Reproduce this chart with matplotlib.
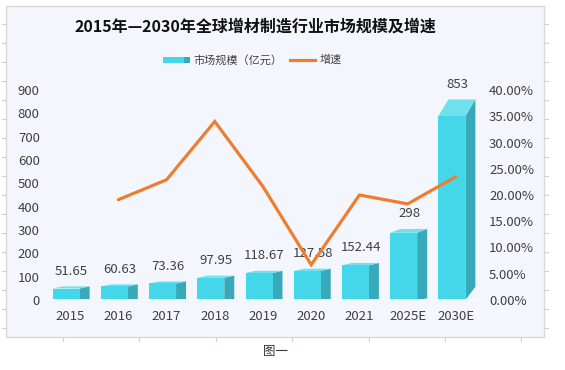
import matplotlib
matplotlib.use("Agg")
import matplotlib.pyplot as plt
from matplotlib.patches import Rectangle, Polygon
from matplotlib.lines import Line2D
import numpy as np

plt.rcParams['font.family'] = ['Noto Sans CJK SC', 'DejaVu Sans']

# ---- data ----
categories = ["2015", "2016", "2017", "2018", "2019", "2020", "2021", "2025E", "2030E"]
market_size = [51.65, 60.63, 73.36, 97.95, 118.67, 127.58, 152.44, 298, 853]
growth_cats = ["2016", "2017", "2018", "2019", "2020", "2021", "2025E", "2030E"]
growth_rate = [0.191, 0.229, 0.340, 0.216, 0.067, 0.200, 0.183, 0.235]
size_labels = ["51.65", "60.63", "73.36", "97.95", "118.67", "127.58", "152.44", "298", "853"]
left_ticks = [0, 100, 200, 300, 400, 500, 600, 700, 800, 900]
right_ticks = [0.0, 0.05, 0.10, 0.15, 0.20, 0.25, 0.30, 0.35, 0.40]

title = "2015年—2030年全球增材制造行业市场规模及增速"
legend_bar = "市场规模（亿元）"
legend_line = "增速"
caption = "图一"

# ---- style ----
W, H = 565, 370
FRONT = "#44D6E9"
SIDE = "#37A9BA"
TOP = "#6EE0EE"
ORANGE = "#ED7D31"
TXT = "#404040"
PANEL = "#F3F6FD"

fig = plt.figure(figsize=(W / 100, H / 100), dpi=100)
fig.patch.set_facecolor("white")

def fx(px):
    return px / W

def fy(py):
    return 1 - py / H

# panel
fig.patches.append(Rectangle((fx(6), fy(337)), fx(538), 331 / H, transform=fig.transFigure,
                             facecolor=PANEL, edgecolor="#D9D9D9", lw=1.0, zorder=-10))
# faint outer ticks
for k in range(17):
    y = 24 + 19 * k
    fig.lines.append(Line2D([fx(2), fx(6)], [fy(y), fy(y)], transform=fig.transFigure,
                            color="#CFCFD6", lw=0.8, zorder=-9))
    fig.lines.append(Line2D([fx(544), fx(548)], [fy(y), fy(y)], transform=fig.transFigure,
                            color="#CFCFD6", lw=0.8, zorder=-9))
for k in range(7):
    x = 63 + 76.4 * k
    fig.lines.append(Line2D([fx(x), fx(x)], [fy(337), fy(341)], transform=fig.transFigure,
                            color="#CFCFD6", lw=0.8, zorder=-9))

ax = fig.add_axes([fx(46), 70 / H, 434 / W, 210 / H])
ax.set_facecolor("none")
n = len(categories)
xs = np.arange(n)
ax.set_xlim(-0.5, n - 0.5)
ax.set_ylim(0, 900)
for s in ax.spines.values():
    s.set_visible(False)

ppx = (434 / n)          # pixels per category unit
ppy = 210 / 900          # pixels per value unit
front_w = 27 / ppx
front_l = -17.5 / ppx
dx = 10 / ppx

for i, v in enumerate(market_size):
    h_px = v * ppy
    persp = 0.00037 * h_px ** 2          # perspective shift (px)
    front_top = v - (persp + 0.5) / ppy   # front face slightly lower than value
    back_top = front_top + (2.0 + persp) / ppy
    back_bot = persp * 0.9 / ppy
    l = xs[i] + front_l
    r = l + front_w
    ax.add_patch(Polygon([(r, 0), (r, front_top), (r + dx, back_top), (r + dx, back_bot)],
                         closed=True, facecolor=SIDE, edgecolor="none", zorder=2, clip_on=False))
    ax.add_patch(Polygon([(l, front_top), (r, front_top), (r + dx, back_top), (l + dx, back_top)],
                         closed=True, facecolor=TOP, edgecolor="none", zorder=2, clip_on=False))
    ax.add_patch(Rectangle((l, 0), front_w, front_top, facecolor=FRONT, edgecolor="none", zorder=3))
    off_pt = ((back_top - v) * ppy + 15) * 0.72
    ax.annotate(size_labels[i], (xs[i], v), xytext=(1.5 * 0.72, off_pt), textcoords="offset points",
                ha="center", va="center", fontsize=9.5, color=TXT, zorder=4)

ax.axhline(0, color="white", lw=1.2, zorder=4)

ax.set_xticks(xs)
ax.set_xticklabels(categories, fontsize=9.5, color=TXT)
ax.set_yticks(left_ticks)
ax.set_yticklabels([str(t) for t in left_ticks], fontsize=9.5, color=TXT)
ax.tick_params(axis="both", length=0)
ax.tick_params(axis="x", pad=7)
ax.tick_params(axis="y", pad=4.5)

ax2 = ax.twinx()
ax2.set_ylim(0, 0.40)
for s in ax2.spines.values():
    s.set_visible(False)
gx = [categories.index(c) for c in growth_cats]
ax2.plot(gx, growth_rate, color=ORANGE, lw=2.3, solid_joinstyle="miter", solid_capstyle="round", zorder=5)
ax2.set_yticks(right_ticks)
ax2.set_yticklabels([f"{t * 100:.2f}%" for t in right_ticks], fontsize=9.5, color=TXT)
ax2.tick_params(axis="y", length=0, pad=6.5)

# title
fig.text(fx(255), fy(27), title, ha="center", va="center", fontsize=11.5,
         fontweight="bold", color="#111111")

# legend (manual)
fig.patches.append(Rectangle((fx(163), fy(63)), fx(21), 6 / H, transform=fig.transFigure,
                             facecolor=FRONT, edgecolor="none"))
fig.patches.append(Rectangle((fx(184), fy(63)), fx(6), 6 / H, transform=fig.transFigure,
                             facecolor=SIDE, edgecolor="none"))
fig.text(fx(193), fy(60), legend_bar, ha="left", va="center", fontsize=8, color=TXT)
fig.lines.append(Line2D([fx(290), fx(315)], [fy(60), fy(60)], transform=fig.transFigure,
                        color=ORANGE, lw=2.3))
fig.text(fx(320), fy(60), legend_line, ha="left", va="center", fontsize=8, color=TXT)

# caption
fig.text(fx(275), fy(352), caption, ha="center", va="center", fontsize=9, color="#333333")

fig.savefig("out.png", dpi=100)
